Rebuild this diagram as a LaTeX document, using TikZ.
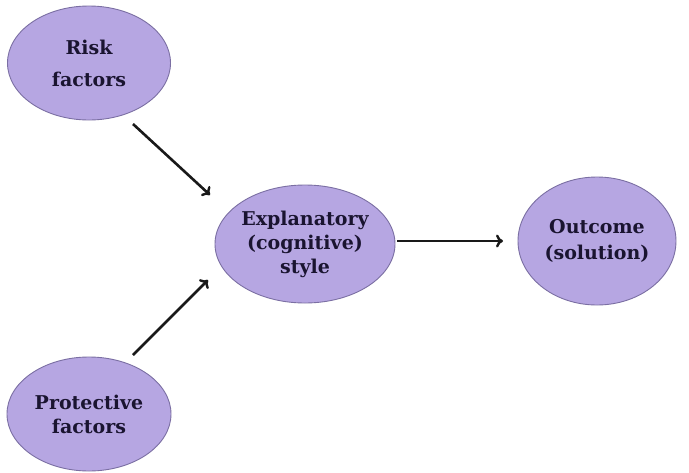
\documentclass[tikz,border=0pt]{standalone}
\usepackage{fontspec}
\setmainfont{DejaVu Serif}
\usetikzlibrary{shapes.geometric,arrows.meta,calc}
\definecolor{ellfill}{HTML}{B6A6E2}
\definecolor{elldraw}{HTML}{7B6FA3}
\definecolor{elltext}{HTML}{1A1430}
\begin{document}
\begin{tikzpicture}[x=1pt,y=-1pt,
  blob/.style={ellipse,draw=elldraw,fill=ellfill,line width=0.9pt,inner sep=0pt,
    align=center,text=elltext,font=\fontsize{19}{24}\selectfont\bfseries},
  arr/.style={-{To[length=7pt,width=13pt,line width=2.4pt]},line width=2.6pt,black!90}]
\useasboundingbox (0,0) rectangle (689,472);
\fill[white] (0,0) rectangle (689,472);
\node[blob,minimum width=163pt,minimum height=114pt,font=\fontsize{19}{32}\selectfont\bfseries] (risk) at (89,63) {Risk\\factors};
\node[blob,minimum width=180pt,minimum height=118pt] (expl) at (305,244) {Explanatory\\(cognitive)\\style};
\node[blob,minimum width=158pt,minimum height=128pt,font=\fontsize{19}{26}\selectfont\bfseries] (out) at (597,241) {Outcome\\(solution)};
\node[blob,minimum width=164pt,minimum height=114pt] (prot) at (89,414) {Protective\\factors};
\draw[arr] ($(risk.center)+(44,61)$) -- ($(expl.center)+(-95,-49)$);
\draw[arr] ($(prot.center)+(44,-59)$) -- ($(expl.center)+(-97,36)$);
\draw[arr] ($(expl.center)+(92,-3)$) -- ($(out.center)+(-94,0)$);
\end{tikzpicture}
\end{document}
